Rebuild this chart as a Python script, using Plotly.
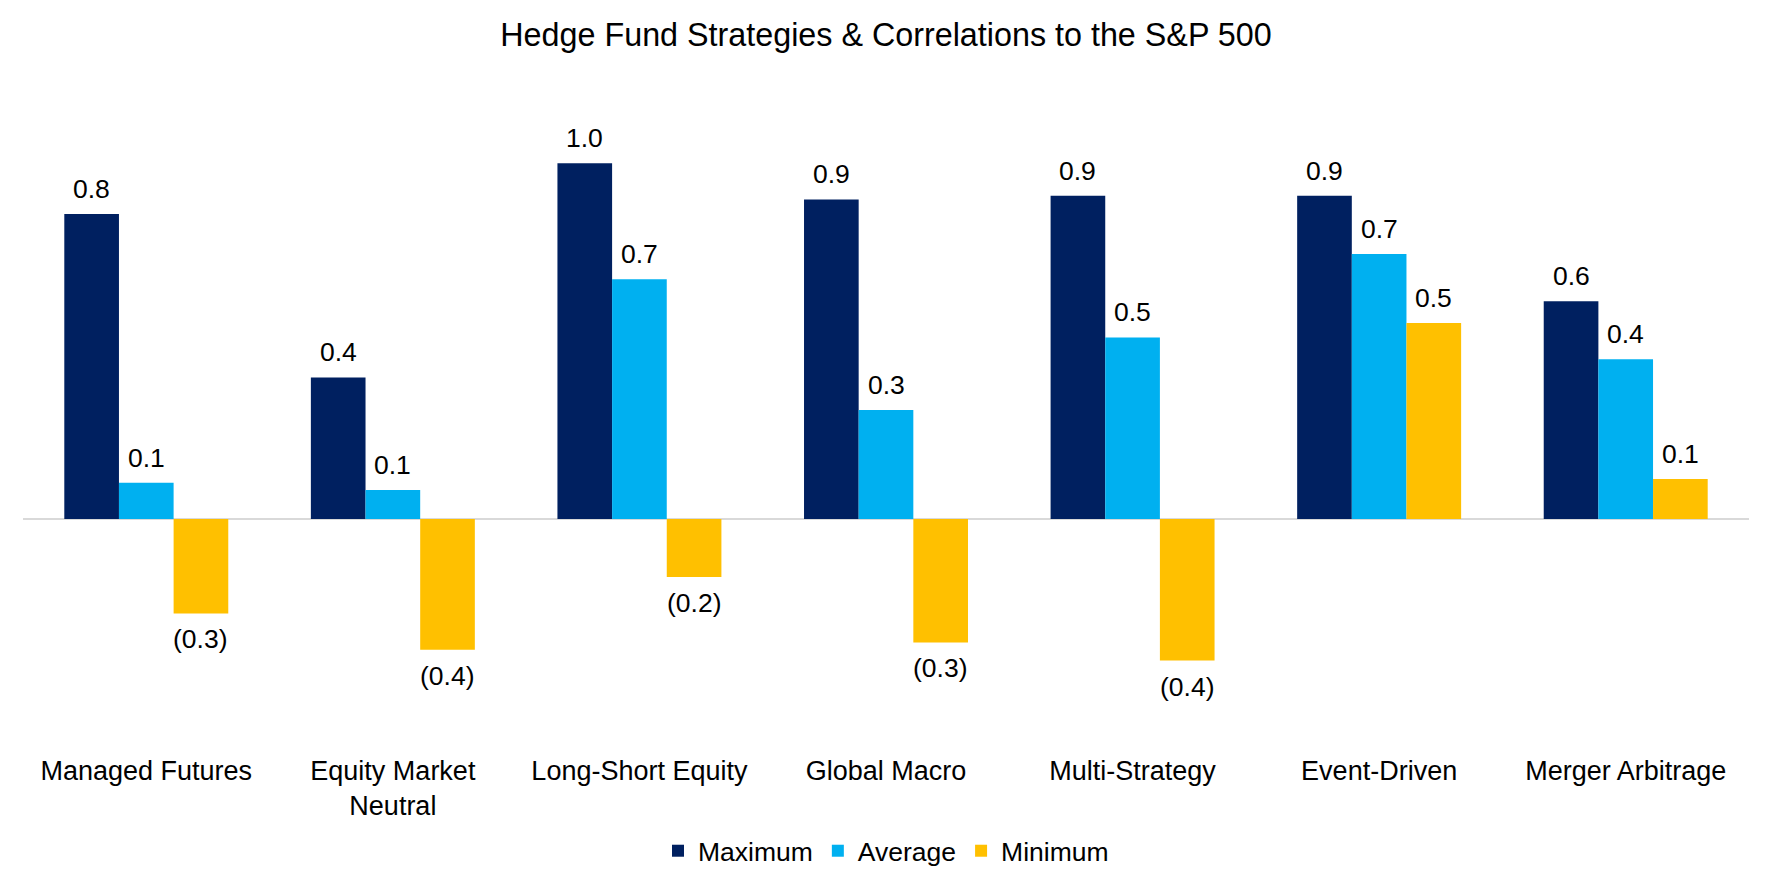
import plotly.graph_objects as go

# ---- data ----
categories = ["Managed Futures", "Equity Market<br>Neutral", "Long-Short Equity",
              "Global Macro", "Multi-Strategy", "Event-Driven", "Merger Arbitrage"]
series_names = ["Maximum", "Average", "Minimum"]
maximum = [0.84, 0.39, 0.98, 0.88, 0.89, 0.89, 0.60]
average = [0.10, 0.08, 0.66, 0.30, 0.50, 0.73, 0.44]
minimum = [-0.26, -0.36, -0.16, -0.34, -0.39, 0.54, 0.11]
title_text = "Hedge Fund Strategies & Correlations to the S&P 500"

# ---- styles ----
colors = ["#002060", "#00B0F0", "#FFC000"]
FONT = "Liberation Sans, Arial, sans-serif"
BARGAP = 0.335
W, H = 1772, 886


def fmt(v):
    return f"{v:.1f}" if v >= 0 else f"({abs(v):.1f})"


fig = go.Figure()
all_series = [maximum, average, minimum]
for name, vals, col in zip(series_names, all_series, colors):
    fig.add_trace(go.Bar(
        x=categories, y=vals, name=name,
        marker=dict(color=col, line=dict(width=0)),
        hoverinfo="x+y+name",
    ))

# data labels placed via axis coordinates (category serial + group offset)
bw = (1 - BARGAP) / len(all_series)
annotations = []
for i, vals in enumerate(all_series):
    offset = (i - (len(all_series) - 1) / 2) * bw
    for j, v in enumerate(vals):
        annotations.append(dict(
            x=j + offset, y=v, xref="x", yref="y",
            text=fmt(v), showarrow=False,
            yanchor="bottom" if v >= 0 else "top",
            yshift=8 if v >= 0 else -9,
            font=dict(family=FONT, size=26.5, color="#000000"),
        ))

fig.update_layout(
    width=W, height=H,
    barmode="group", bargap=BARGAP, bargroupgap=0,
    paper_bgcolor="white", plot_bgcolor="white",
    margin=dict(l=23, r=23, t=100, b=131, autoexpand=False),
    font=dict(family=FONT, size=27, color="#000000"),
    title=dict(text=title_text, x=0.5, xanchor="center", xref="paper",
               y=1 - 35 / H, yref="container", yanchor="middle",
               font=dict(family=FONT, size=32.3, color="#000000")),
    xaxis=dict(showgrid=False, showline=False, ticks="", zeroline=False,
               ticklabelstandoff=-3,
               tickfont=dict(family=FONT, size=27, color="#000000")),
    yaxis=dict(showgrid=False, showline=False, ticks="", showticklabels=False,
               zeroline=True, zerolinecolor="#D9D9D9", zerolinewidth=2,
               range=[-0.650, 1.154], fixedrange=True),
    legend=dict(orientation="h", x=0.5, xanchor="center", xref="container",
                y=(H - 851) / H, yref="container", yanchor="middle",
                font=dict(family=FONT, size=26.5, color="#000000"),
                traceorder="normal", bgcolor="rgba(0,0,0,0)"),
    annotations=annotations,
    showlegend=True,
)

fig.write_html("out.html", config={"displayModeBar": False})
